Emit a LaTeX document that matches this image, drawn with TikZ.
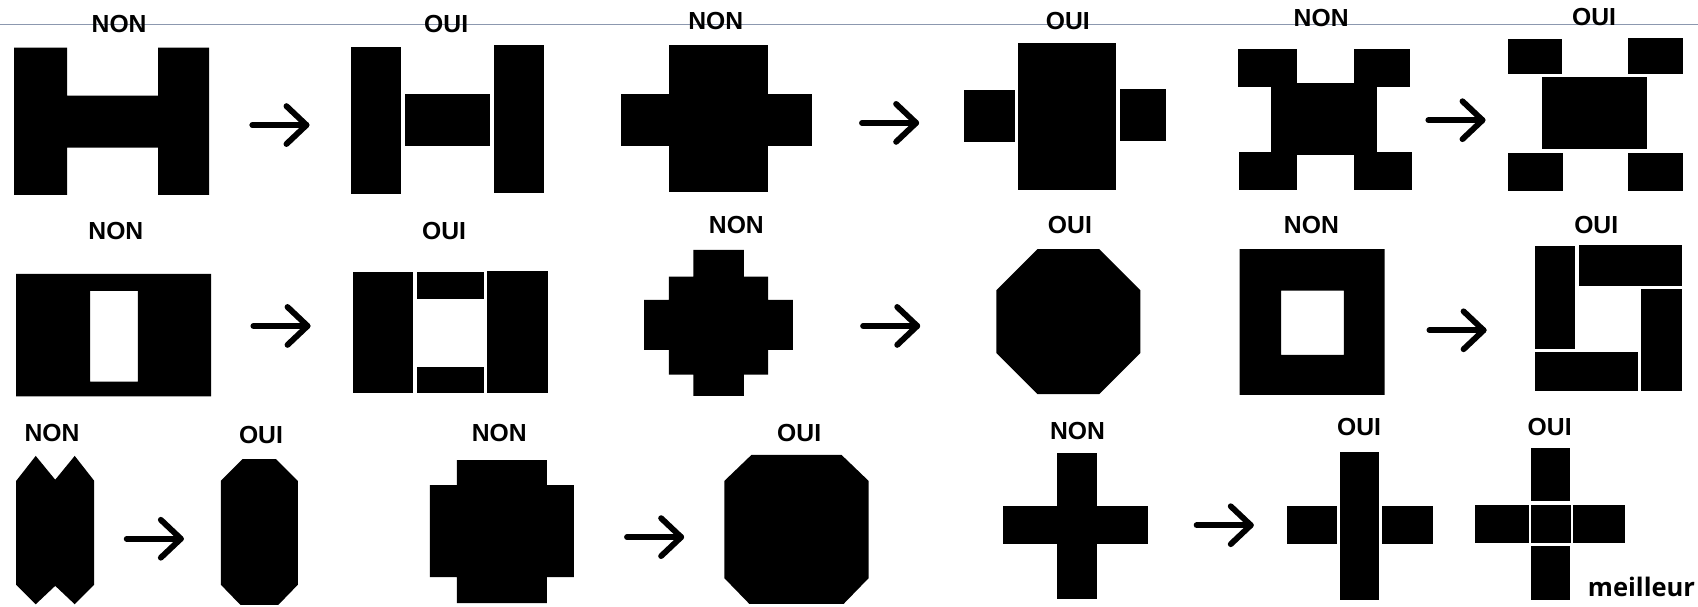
\documentclass[tikz,border=0pt]{standalone}
\usepackage{fontspec}
\setmainfont{Liberation Sans}
\newfontfamily\meilfont{Open Sans}
\usetikzlibrary{calc}
\definecolor{rulecol}{RGB}{140,152,175}
\begin{document}
\begin{tikzpicture}[x=0.5pt,y=-0.5pt,
  lbl/.style={font=\bfseries\fontsize{11.4}{12}\selectfont, inner sep=0pt, text=black},
  blk/.style={fill=black},
  arr/.style={line width=2.7pt, line cap=round, line join=round, draw=black}]
\useasboundingbox (0,0) rectangle (1568,560);
\fill[white] (0,0) rectangle (1568,560);
% thin rule at top
\coordinate (ruleL) at (0,22.4);
\coordinate (ruleR) at (1568,22.4);
\draw[rulecol, line width=0.6pt] (ruleL) -- (ruleR);

% ---------- Row 1 ----------
\node[lbl] (l1) at (110,22) {NON};
\fill[blk] (13,44) -- (62,44) -- (62,88.4) -- (146,88.4) -- (146,44) -- (193,44) -- (193,180) -- (146,180) -- (146,136.4) -- (62,136.4) -- (62,180) -- (13,180) -- cycle;
\node[lbl] (l2) at (412,22) {OUI};
\fill[blk] (324.3,43) rectangle (370.7,179.4);
\fill[blk] (374,86.8) rectangle (452.7,134.5);
\fill[blk] (456,42) rectangle (502.7,178.5);

\node[lbl] (l3) at (661,19) {NON};
\fill[blk] (617.6,41.5) rectangle (709.3,177);
\fill[blk] (573.3,87) rectangle (750,134.5);
\node[lbl] (l4) at (986,19) {OUI};
\fill[blk] (890,83) rectangle (937,131);
\fill[blk] (940,39.5) rectangle (1031,175);
\fill[blk] (1034,82) rectangle (1077,130);

\node[lbl] (l5) at (1220,17) {NON};
\fill[blk] (1174,77) rectangle (1272,143);
\fill[blk] (1143,45.5) rectangle (1198,80.6);
\fill[blk] (1250,45.5) rectangle (1302,80.6);
\fill[blk] (1144,140) rectangle (1198,175);
\fill[blk] (1250,140) rectangle (1303.6,175);
\node[lbl] (l6) at (1472,16) {OUI};
\fill[blk] (1392.6,36) rectangle (1442.6,68.4);
\fill[blk] (1503,35) rectangle (1554.3,68.4);
\fill[blk] (1423.6,71.4) rectangle (1521.3,137.9);
\fill[blk] (1392.6,141.6) rectangle (1443.6,176);
\fill[blk] (1503.6,141) rectangle (1554.3,176);

% ---------- Row 2 ----------
\node[lbl] (l7) at (107,213) {NON};
\fill[blk, even odd rule] (15,253) rectangle (195,366) (83.3,268.7) rectangle (127.3,352.4);
\node[lbl] (l8) at (410,213) {OUI};
\fill[blk] (326,251) rectangle (381.7,363.2);
\fill[blk] (385,251) rectangle (446.7,276);
\fill[blk] (385,338.5) rectangle (446.7,363);
\fill[blk] (450,250) rectangle (506,363.2);

\node[lbl] (l9) at (680,208) {NON};
\fill[blk] (640.2,230.8) -- (686.8,230.8) -- (686.8,255.4) -- (709.3,255.4) -- (709.3,277) -- (732.2,277) -- (732.2,323) -- (709.3,323) -- (709.3,346) -- (686.8,346) -- (686.8,365.6) -- (640.2,365.6) -- (640.2,346) -- (617.7,346) -- (617.7,323) -- (594.8,323) -- (594.8,277) -- (617.7,277) -- (617.7,255.4) -- (640.2,255.4) -- cycle;
\node[lbl] (l10) at (988,208) {OUI};
\fill[blk] (958,230) -- (1015,230) -- (1053,268) -- (1053,326) -- (1015,364) -- (958,364) -- (920,326) -- (920,268) -- cycle;

\node[lbl] (l11) at (1211,208) {NON};
\fill[blk, even odd rule] (1144.6,230) rectangle (1278.6,364.7) (1183,268.4) rectangle (1241,327.8);
\node[lbl] (l12) at (1474,208) {OUI};
\fill[blk] (1417,227) rectangle (1454.6,322.5);
\fill[blk] (1458,226) rectangle (1553.6,264.2);
\fill[blk] (1515.6,266.5) rectangle (1553.6,360.7);
\fill[blk] (1417,325) rectangle (1513,360.7);

% ---------- Row 3 ----------
\node[lbl] (l13) at (48,400) {NON};
\fill[blk] (15,444) -- (33,421) -- (51,443) -- (69,421) -- (87,444) -- (87,540) -- (69,558) -- (51,541) -- (33,558) -- (15,540) -- cycle;
\node[lbl] (l14) at (241,402) {OUI};
\fill[blk] (224,424) -- (255,424) -- (275,444) -- (275,540) -- (257,558.6) -- (222,558.6) -- (204,540) -- (204,444) -- cycle;

\node[lbl] (l15) at (461,400) {NON};
\fill[blk] (422,425) -- (505,425) -- (505,448) -- (530,448) -- (530,533) -- (505,533) -- (505,557) -- (422,557) -- (422,533) -- (397,533) -- (397,448) -- (422,448) -- cycle;
\node[lbl] (l16) at (738,400) {OUI};
\fill[blk] (694,420) -- (777,420) -- (802,444) -- (802,534) -- (779,557.7) -- (692,557.7) -- (669,534) -- (669,444) -- cycle;

\node[lbl] (l17) at (995,398) {NON};
\fill[blk] (976,418) rectangle (1012.6,553.4);
\fill[blk] (926,467) rectangle (1060.3,502.3);
\node[lbl] (l18) at (1255,394) {OUI};
\fill[blk] (1188,467) rectangle (1234.6,502.6);
\fill[blk] (1237,417) rectangle (1273,554);
\fill[blk] (1276,467) rectangle (1323.6,502.6);

\node[lbl] (l19) at (1431,394) {OUI};
\fill[blk] (1414,414) rectangle (1450,463);
\fill[blk] (1362,466) rectangle (1412,501);
\fill[blk] (1414,466) rectangle (1451,501);
\fill[blk] (1453,466) rectangle (1501,501);
\fill[blk] (1414,504) rectangle (1450,554);
\node[anchor=base west, inner sep=0pt, font=\meilfont\bfseries\fontsize{11.8}{12}\selectfont] (meil) at (1466,551) {meilleur};

% ---------- Arrows ----------
\foreach \n/\xa/\xb/\yy in {1/233/283/115.5, 2/796/846/113.5, 3/1319/1369/111,
    4/234/284/301, 5/797/847/301, 6/1320/1370/305,
    7/117/167/497.5, 8/579/629/496, 9/1105/1155/485}{
  \coordinate (arr\n-s) at (\xa,\yy);
  \coordinate (arr\n-e) at (\xb,\yy);
  \draw[arr] (arr\n-s) -- (arr\n-e);
  \draw[arr] ([shift={(-18.5,-17.5)}]arr\n-e) -- (arr\n-e) -- ([shift={(-18.5,17.5)}]arr\n-e);
}
\end{tikzpicture}
\end{document}
